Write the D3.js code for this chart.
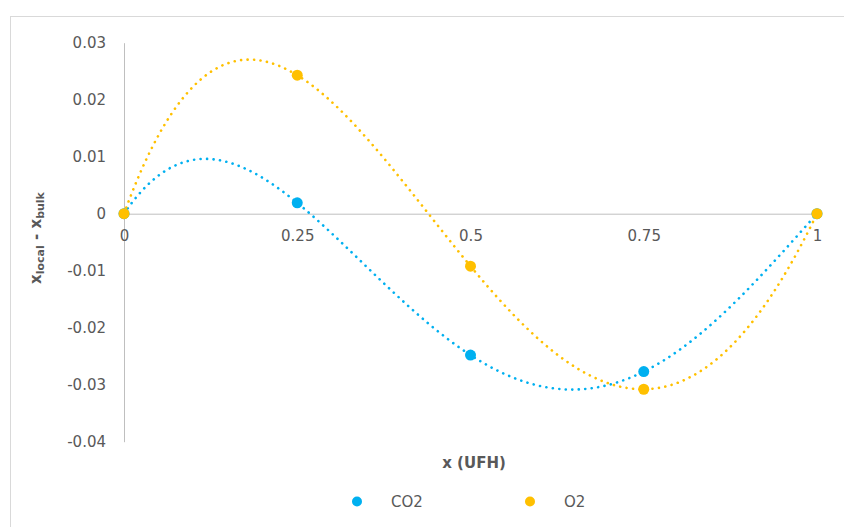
<!DOCTYPE html>
<html>
<head>
<meta charset="utf-8">
<script src="https://cdn.jsdelivr.net/npm/d3@7/dist/d3.min.js"></script>
<style>
  html, body { margin: 0; padding: 0; background: #fff; }
  svg { display: block; }
  text { font-family: "DejaVu Sans", sans-serif; }
</style>
</head>
<body>
<svg id="chart" width="844" height="527"></svg>
<script>
// Sample positions along the UFH and the local-minus-bulk deviation for each gas
const xValues = [0, 0.25, 0.5, 0.75, 1];
const co2Values = [0, 0.0019, -0.0248, -0.0277, 0];
const o2Values = [0, 0.0243, -0.0092, -0.0308, 0];
const seriesNames = ["CO2", "O2"];
const seriesColors = ["#00B0F0", "#FFC000"];

// Axis ticks
const xTicks = [0, 0.25, 0.5, 0.75, 1];
const xTickLabels = ["0", "0.25", "0.5", "0.75", "1"];
const yTicks = [0.03, 0.02, 0.01, 0, -0.01, -0.02, -0.03, -0.04];
const yTickLabels = ["0.03", "0.02", "0.01", "0", "-0.01", "-0.02", "-0.03", "-0.04"];

const series = [
  { name: seriesNames[0], color: seriesColors[0], values: co2Values },
  { name: seriesNames[1], color: seriesColors[1], values: o2Values }
];

const svg = d3.select("#chart");
const W = 844, H = 527;

// chart-area frame (only top and left edges fall inside the view)
svg.append("rect")
  .attr("x", 10.5).attr("y", 16.5)
  .attr("width", W + 20).attr("height", H + 20)
  .attr("fill", "#fff").attr("stroke", "#D9D9D9").attr("stroke-width", 1);

const x = d3.scaleLinear().domain([0, 1]).range([124, 817]);
const y = d3.scaleLinear().domain([-0.04, 0.03]).range([441.7, 42.7]);

// Least-squares polynomial fit (order-4 trendline)
function polyfit(xs, ys, order) {
  const n = order + 1;
  const A = Array.from({ length: n }, () => new Array(n + 1).fill(0));
  for (let r = 0; r < n; r++) {
    for (let c = 0; c < n; c++) {
      A[r][c] = d3.sum(xs, xi => Math.pow(xi, r + c));
    }
    A[r][n] = d3.sum(xs, (xi, i) => ys[i] * Math.pow(xi, r));
  }
  for (let i = 0; i < n; i++) {
    let p = i;
    for (let k = i + 1; k < n; k++) if (Math.abs(A[k][i]) > Math.abs(A[p][i])) p = k;
    [A[i], A[p]] = [A[p], A[i]];
    for (let k = i + 1; k < n; k++) {
      const f = A[k][i] / A[i][i];
      for (let j = i; j <= n; j++) A[k][j] -= f * A[i][j];
    }
  }
  const coef = new Array(n).fill(0);
  for (let i = n - 1; i >= 0; i--) {
    let s = A[i][n];
    for (let j = i + 1; j < n; j++) s -= A[i][j] * coef[j];
    coef[i] = s / A[i][i];
  }
  return t => coef.reduce((acc, c, k) => acc + c * Math.pow(t, k), 0);
}

// Axes
const yAxis = d3.axisLeft(y).tickValues(yTicks).tickSize(0).tickPadding(18)
  .tickFormat((d, i) => yTickLabels[i]);
const gy = svg.append("g").attr("transform", `translate(${x(0)},0)`).call(yAxis);
gy.select(".domain").attr("stroke", "#BFBFBF").attr("stroke-width", 1);
gy.selectAll("text").attr("fill", "#595959").attr("font-size", 15)
  .attr("font-family", "DejaVu Sans, sans-serif");

const xAxis = d3.axisBottom(x).tickValues(xTicks).tickSize(0).tickPadding(17)
  .tickFormat((d, i) => xTickLabels[i]);
const gx = svg.append("g").attr("transform", `translate(0,${y(0)})`).call(xAxis);
gx.select(".domain").attr("stroke", "#BFBFBF").attr("stroke-width", 1);
gx.selectAll("text").attr("fill", "#595959").attr("font-size", 15)
  .attr("font-family", "DejaVu Sans, sans-serif");

// Trendlines
const samples = d3.range(0, 1.0001, 0.0025);
const line = d3.line().x(d => x(d[0])).y(d => y(d[1]));
series.forEach(s => {
  const f = polyfit(xValues, s.values, 4);
  svg.append("path")
    .datum(samples.map(t => [t, f(t)]))
    .attr("d", line)
    .attr("fill", "none")
    .attr("stroke", s.color)
    .attr("stroke-width", 2.6)
    .attr("stroke-linecap", "round")
    .attr("stroke-dasharray", "0.1 6.4");
});

// Markers
series.forEach(s => {
  svg.append("g").selectAll("circle")
    .data(s.values.map((v, i) => [xValues[i], v]))
    .join("circle")
    .attr("cx", d => x(d[0]))
    .attr("cy", d => y(d[1]))
    .attr("r", 5.5)
    .attr("fill", s.color);
});

// Axis titles
svg.append("text")
  .attr("x", 474).attr("y", 468)
  .attr("text-anchor", "middle")
  .attr("font-size", 15).attr("font-weight", "bold").attr("fill", "#595959")
  .text("x (UFH)");

const yt = svg.append("text")
  .attr("transform", "translate(41,238) rotate(-90)")
  .attr("text-anchor", "middle")
  .attr("font-size", 15).attr("font-weight", "bold").attr("fill", "#595959");
yt.append("tspan").text("x");
yt.append("tspan").attr("font-size", 11).attr("dy", 3).text("local");
yt.append("tspan").attr("dy", -3).text(" - x");
yt.append("tspan").attr("font-size", 11).attr("dy", 3).text("bulk");

// Legend
const legendX = [357, 530];
series.forEach((s, i) => {
  svg.append("circle").attr("cx", legendX[i]).attr("cy", 501.5).attr("r", 5).attr("fill", s.color);
  svg.append("text").attr("x", legendX[i] + 34).attr("y", 507)
    .attr("font-size", 15).attr("fill", "#595959").text(s.name);
});
</script>
</body>
</html>
